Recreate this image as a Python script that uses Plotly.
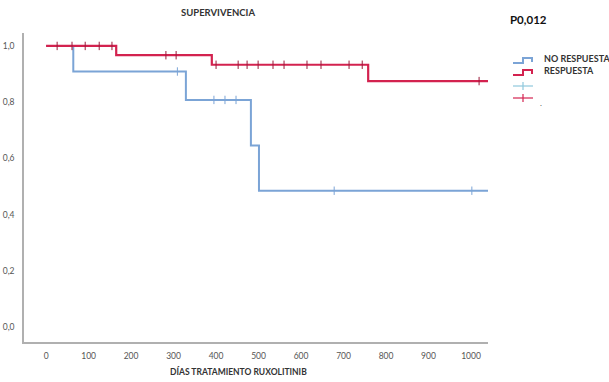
import plotly.graph_objects as go

# ---- data ----
blue_times = [0, 64, 329, 482, 501, 1040]
blue_surv = [1.0, 0.909, 0.808, 0.646, 0.485, 0.485]
blue_censor_t = [309, 395, 421, 447, 678, 1002]

red_times = [0, 165, 390, 758, 1040]
red_surv = [1.0, 0.967, 0.933, 0.875, 0.875]
red_censor_t = [26, 61, 92, 125, 155, 282, 306, 400, 452, 473, 499, 534,
                560, 614, 647, 713, 744, 1019]

x_ticks = [0, 100, 200, 300, 400, 500, 600, 700, 800, 900, 1000]
y_ticks = [0.0, 0.2, 0.4, 0.6, 0.8, 1.0]
y_tick_labels = ["0,0", "0,2", "0,4", "0,6", "0,8", "1,0"]

BLUE = "#7ba4d6"
RED = "#d3224f"


def step_value(times, surv, t):
    v = surv[0]
    for ti, si in zip(times, surv):
        if ti <= t:
            v = si
    return v


fig = go.Figure()
fig.add_trace(go.Scatter(x=blue_times, y=blue_surv, mode="lines", line_shape="hv",
                         line=dict(color=BLUE, width=2), showlegend=False))
fig.add_trace(go.Scatter(x=blue_censor_t,
                         y=[step_value(blue_times, blue_surv, t) for t in blue_censor_t],
                         mode="markers",
                         marker=dict(symbol="line-ns", size=6, line=dict(color=BLUE, width=1)),
                         showlegend=False))
fig.add_trace(go.Scatter(x=red_times, y=red_surv, mode="lines", line_shape="hv",
                         line=dict(color=RED, width=2.2), showlegend=False))
fig.add_trace(go.Scatter(x=red_censor_t,
                         y=[step_value(red_times, red_surv, t) for t in red_censor_t],
                         mode="markers",
                         marker=dict(symbol="line-ns", size=6, line=dict(color="#9a1a3a", width=1)),
                         showlegend=False))

# pixel -> paper helpers for decorations
L, R, T, B = 24, 488, 33, 342
W, H = 609, 382


def px(x):
    return (x - L) / (R - L)


def py(y):
    return (B - y) / (B - T)


shapes = []
# legend step icons
for yb, col in [(63, BLUE), (75, RED)]:
    path = "M {} {} L {} {} L {} {} L {} {} L {} {}".format(
        px(513), py(yb), px(523), py(yb), px(523), py(yb - 5), px(532), py(yb - 5),
        px(532), py(yb - 1))
    shapes.append(dict(type="path", path=path, xref="paper", yref="paper",
                       line=dict(color=col, width=2)))
# legend censor crosses
for yc, col in [(86, "#8fc8dc"), (98, RED)]:
    shapes.append(dict(type="line", xref="paper", yref="paper", x0=px(513), x1=px(533),
                       y0=py(yc), y1=py(yc), line=dict(color=col, width=1.2)))
    shapes.append(dict(type="line", xref="paper", yref="paper", x0=px(523), x1=px(523),
                       y0=py(yc - 4), y1=py(yc + 4), line=dict(color=col, width=1.2)))

FONT = "Lato, Open Sans, sans-serif"

annotations = [
    dict(text="<b>SUPERVIVENCIA</b>", xref="paper", yref="paper", x=px(218), y=py(12),
         showarrow=False, font=dict(size=9.5, color="#333333", family=FONT),
         xanchor="center", yanchor="middle"),
    dict(text="<b>P0,012</b>", xref="paper", yref="paper", x=px(508), y=py(20),
         showarrow=False, font=dict(size=11.5, color="#111111", family=FONT),
         xanchor="left", yanchor="middle"),
    dict(text="<b>NO RESPUESTA</b>", xref="paper", yref="paper", x=px(542), y=py(58),
         showarrow=False, font=dict(size=9, color="#333333", family=FONT),
         xanchor="left", yanchor="middle"),
    dict(text="<b>RESPUESTA</b>", xref="paper", yref="paper", x=px(542), y=py(70),
         showarrow=False, font=dict(size=9, color="#333333", family=FONT),
         xanchor="left", yanchor="middle"),
    dict(text=".", xref="paper", yref="paper", x=px(538), y=py(103),
         showarrow=False, font=dict(size=8, color="#555555"), xanchor="left", yanchor="middle"),
    dict(text="<b>DÍAS TRATAMIENTO RUXOLITINIB</b>", xref="paper", yref="paper",
         x=px(238), y=py(371), showarrow=False, font=dict(size=8.5, color="#333333", family=FONT),
         xanchor="center", yanchor="middle"),
]

fig.update_layout(
    width=W, height=H,
    margin=dict(l=L, r=W - R, t=T, b=H - B, pad=0, autoexpand=False),
    paper_bgcolor="white", plot_bgcolor="white",
    font=dict(family=FONT, size=8.5, color="#555555"),
    shapes=shapes, annotations=annotations,
    showlegend=False,
)
fig.update_xaxes(range=[-52, 1040], tickvals=x_ticks, showgrid=False, zeroline=False,
                 showline=True, linecolor="#b0b0b0", linewidth=1.5, ticks="",
                 tickfont=dict(size=8.5, color="#555555"), ticklabelstandoff=5,
                 automargin=False)
fig.update_yaxes(range=[-0.053, 1.046], tickvals=y_ticks, ticktext=y_tick_labels,
                 showgrid=False, zeroline=False, showline=True, linecolor="#b0b0b0",
                 linewidth=1.5, ticks="", tickfont=dict(size=8.5, color="#555555"),
                 ticklabelstandoff=6, automargin=False)

fig.write_html("out.html", config={"displayModeBar": False},
               post_script="document.body.style.margin='0';document.body.style.padding='0';"
                           "document.body.style.overflow='hidden';")
